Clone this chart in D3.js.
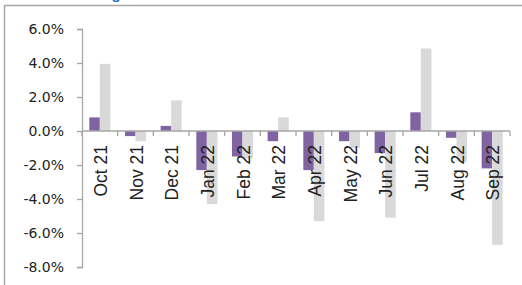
<!DOCTYPE html>
<html>
<head>
<meta charset="utf-8">
<script src="https://cdn.jsdelivr.net/npm/d3@7"></script>
<style>
  body { margin: 0; background: #fff; }
  svg { display: block; font-family: "Liberation Sans", Arial, sans-serif; }
</style>
</head>
<body>
<div id="chart"></div>
<script>
const months = ["Oct 21", "Nov 21", "Dec 21", "Jan 22", "Feb 22", "Mar 22",
  "Apr 22", "May 22", "Jun 22", "Jul 22", "Aug 22", "Sep 22"];
const purpleValues = [0.8, -0.3, 0.3, -2.3, -1.5, -0.6, -2.3, -0.6, -1.3, 1.1, -0.4, -2.2];
const greyValues = [3.95, -0.6, 1.8, -4.3, -1.6, 0.8, -5.3, -1.0, -5.1, 4.85, -1.8, -6.7];
const yTicks = [6, 4, 2, 0, -2, -4, -6, -8];
const seriesKeys = ["a", "b"];

const width = 522, height = 285;
const plotLeft = 82, plotRight = 510, plotTop = 29, plotBottom = 267;

const rows = months.map((m, i) => ({ month: m, a: purpleValues[i], b: greyValues[i] }));

const svg = d3.select("#chart").append("svg")
  .attr("width", width)
  .attr("height", height);

// title is cut off by the top edge in the source; only a descender shows
svg.append("text")
  .attr("x", 129).attr("y", -1)
  .attr("text-anchor", "end")
  .attr("fill", "#1f6fc5")
  .attr("font-weight", "bold")
  .attr("font-size", 15)
  .text("% change");

svg.append("path")
  .attr("d", `M4.5,${height}V5.5H${width}`)
  .attr("fill", "none")
  .attr("stroke", "#a6a6a6")
  .attr("stroke-width", 1.5);

const x = d3.scaleBand().domain(months).range([plotLeft, plotRight]);
const y = d3.scaleLinear().domain([-8, 6]).range([plotBottom, plotTop]);

// bars: the pair fills ~59% of each category
const colors = { a: "#8064a2", b: "#d9d9d9" };
const pairWidth = x.bandwidth() * 0.59;
const barX = d3.scaleBand().domain(seriesKeys)
  .range([(x.bandwidth() - pairWidth) / 2, (x.bandwidth() + pairWidth) / 2]);

svg.append("g")
  .selectAll("g")
  .data(rows)
  .join("g")
  .attr("transform", d => `translate(${x(d.month)},0)`)
  .selectAll("rect")
  .data(d => seriesKeys.map(k => ({ key: k, value: d[k] })))
  .join("rect")
  .attr("x", d => barX(d.key))
  .attr("width", barX.bandwidth())
  .attr("y", d => y(Math.max(0, d.value)))
  .attr("height", d => Math.abs(y(d.value) - y(0)))
  .attr("fill", d => colors[d.key]);

// y axis
const yAxis = svg.append("g")
  .attr("transform", `translate(${plotLeft},0)`)
  .call(d3.axisLeft(y).tickValues(yTicks).tickSizeOuter(0).tickSize(5).tickPadding(13)
    .tickFormat(d => d.toFixed(1) + "%"));
yAxis.select(".domain").attr("stroke", "#a6a6a6").attr("stroke-width", 1.3);
yAxis.selectAll(".tick line").attr("stroke", "#a6a6a6").attr("stroke-width", 1.3);
yAxis.selectAll(".tick text")
  .attr("font-size", 14)
  .attr("fill", "#222")
  .attr("font-family", "'DejaVu Sans', sans-serif");

// x axis line with category boundary ticks
const xAxis = svg.append("g").attr("transform", `translate(0,${y(0)})`);
xAxis.append("line")
  .attr("x1", plotLeft).attr("x2", plotRight)
  .attr("stroke", "#a6a6a6").attr("stroke-width", 1.3);
xAxis.selectAll("line.tk")
  .data(months.concat(["end"]))
  .join("line")
  .attr("class", "tk")
  .attr("x1", (d, i) => plotLeft + i * x.step())
  .attr("x2", (d, i) => plotLeft + i * x.step())
  .attr("y1", 0).attr("y2", 5)
  .attr("stroke", "#a6a6a6").attr("stroke-width", 1.3);

// month labels, drawn over the bars
svg.append("g")
  .selectAll("text")
  .data(months)
  .join("text")
  .attr("transform", d => `translate(${x(d) + x.bandwidth() / 2 + 1},${y(0) + 14}) rotate(-90)`)
  .attr("text-anchor", "end")
  .attr("dy", "0.36em")
  .attr("font-size", 17.5)
  .attr("fill", "#222")
  .text(d => d);
</script>
</body>
</html>
